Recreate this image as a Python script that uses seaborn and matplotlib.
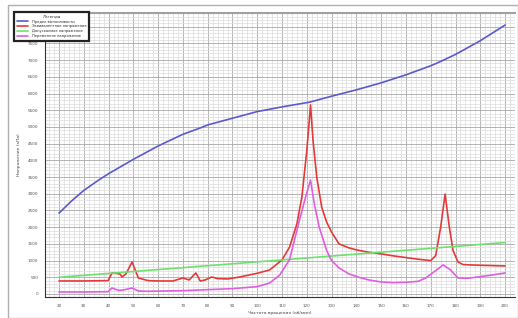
import matplotlib
matplotlib.use("Agg")
import matplotlib.pyplot as plt
import pandas as pd
import seaborn as sns
from matplotlib.ticker import MultipleLocator, FuncFormatter
from matplotlib.patches import Rectangle

# series names (legend order)
names = [
    "Предел выносливости",
    "Эквивалентное напряжение",
    "Допускаемое напряжение",
    "Переменное напряжение",
]

# blue curve
rpmBlue = [20, 25, 30, 36, 40, 50, 57, 60, 70, 77, 80, 90, 97, 100, 110, 121,
           130, 140, 150, 160, 170, 174, 180, 190, 200]
blue = [2420, 2780, 3100, 3410, 3600, 4030, 4310, 4430, 4780, 4970, 5060, 5260,
        5400, 5460, 5600, 5740, 5920, 6110, 6320, 6560, 6830, 6960, 7170, 7580, 8050]

# red curve
rpmRed = [20, 30, 39.8, 41.4, 43, 44.6, 45.4, 47, 49.5, 52, 56, 60, 66, 70, 72.5,
          75.2, 77, 79, 81.6, 84, 88, 93, 100, 105, 110, 113, 116, 118, 120, 121.5,
          122.5, 124, 126, 128, 130, 133, 137, 140, 145, 150, 155, 160, 165, 170,
          172, 174, 175.8, 177.5, 179, 181, 183, 186, 190, 195, 200]
red = [390, 390, 400, 630, 620, 600, 510, 600, 960, 480, 400, 390, 390, 480, 420,
       630, 390, 420, 510, 460, 450, 510, 620, 720, 1020, 1400, 2100, 2900, 4300, 5660,
       4600, 3500, 2600, 2150, 1850, 1500, 1380, 1320, 1250, 1200, 1140, 1090, 1040, 1000,
       1150, 2000, 2990, 2000, 1300, 960, 880, 870, 860, 850, 840]

# green line
rpmGreen = [20, 200]
green = [500, 1540]

# magenta curve
rpmMag = [20, 30, 39.8, 41.4, 44, 46, 49.5, 52, 56, 70, 80, 90, 100, 105, 109, 113,
          117, 119.5, 121.5, 123, 125, 128, 130, 133, 137, 141, 145, 150, 155, 160,
          165, 168, 172, 175, 178, 181, 185, 190, 195, 200]
mag = [60, 60, 70, 180, 110, 120, 180, 90, 80, 100, 130, 160, 220, 330, 560, 1020,
       2200, 2900, 3410, 2700, 2000, 1300, 1000, 780, 600, 500, 420, 360, 340, 350,
       380, 480, 700, 870, 720, 480, 470, 520, 570, 630]

frames = []
for name, xs, ys in zip(names, [rpmBlue, rpmRed, rpmGreen, rpmMag], [blue, red, green, mag]):
    frames.append(pd.DataFrame({"rpm": xs, "value": ys, "series": name}))
df = pd.concat(frames, ignore_index=True)

palette = {names[0]: "#5a5ad0", names[1]: "#e23a3a", names[2]: "#6fe06f", names[3]: "#e05ee0"}

sns.set_style("white")
plt.rcParams["font.family"] = ["DejaVu Sans"]

fig = plt.figure(figsize=(5.18, 3.18), dpi=100)
fig.patches.append(Rectangle((8 / 518, 0.0), 1 - 8 / 518, 1 - 5 / 318, transform=fig.transFigure,
                             fill=False, edgecolor="#b0b0b0", linewidth=1.0))
ax = fig.add_axes([45 / 518, 21 / 318, 470 / 518, 284 / 318])

sns.lineplot(data=df, x="rpm", y="value", hue="series", hue_order=names, palette=palette,
             estimator=None, sort=False, linewidth=1.2, ax=ax)

ax.set_xlim(14.35, 204)
ax.set_ylim(-90, 8410)
ax.xaxis.set_major_locator(MultipleLocator(10))
ax.xaxis.set_minor_locator(MultipleLocator(2))
ax.yaxis.set_major_locator(MultipleLocator(500))
ax.yaxis.set_minor_locator(MultipleLocator(100))
# the 8000 label sits under the legend in the reference
ax.yaxis.set_major_formatter(FuncFormatter(lambda v, p: "" if v > 7600 else f"{v:.0f}"))
ax.grid(which="major", color="#a8a8a8", linewidth=0.6)
ax.grid(which="minor", color="#dcdcdc", linewidth=0.5)
ax.set_axisbelow(True)

ax.tick_params(axis="both", which="major", labelsize=3, length=3, width=0.6,
               colors="#333333", labelcolor="#555555", pad=2)
ax.tick_params(axis="both", which="minor", length=2, width=0.5, colors="#333333")

ax.spines["right"].set_visible(False)
ax.spines["top"].set_color("#a0a0a0")
ax.spines["top"].set_linewidth(1.5)
ax.spines["left"].set_color("#333333")
ax.spines["bottom"].set_color("#333333")

ax.set_xlabel("Частота вращения (об/мин)", fontsize=3.2, color="#444444", labelpad=2)
ax.set_ylabel("Напряжение (кПа)", fontsize=3.2, color="#444444", labelpad=5)

leg = ax.legend(title="Легенда", loc="upper left", bbox_to_anchor=(12 / 518, 1 - 10 / 318),
                bbox_transform=fig.transFigure, fontsize=2.6, title_fontsize=3,
                frameon=True, fancybox=False, handlelength=3, borderpad=0.8,
                labelspacing=0.25, handletextpad=1.2)
leg.get_frame().set_edgecolor("#222222")
leg.get_frame().set_linewidth(1.6)
leg.get_frame().set_alpha(1)

fig.savefig("out.png", dpi=100)
